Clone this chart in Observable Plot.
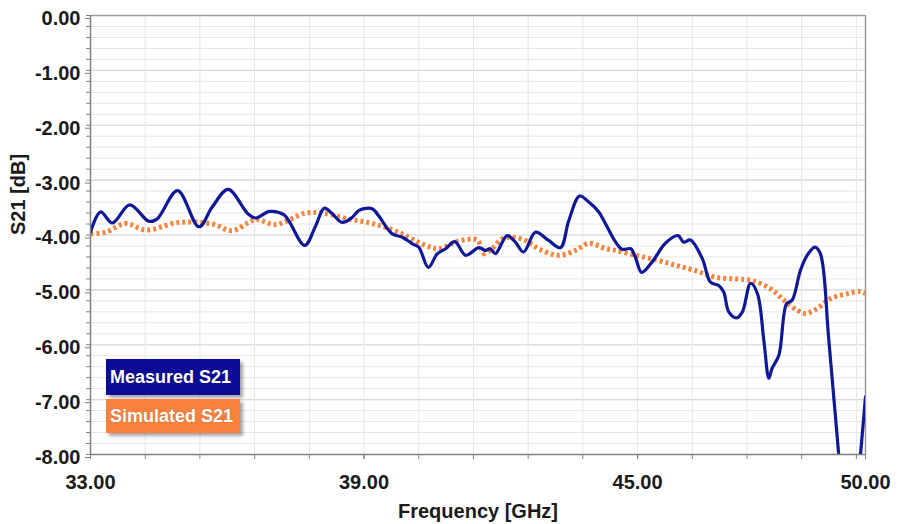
<!DOCTYPE html>
<html>
<head>
<meta charset="utf-8">
<script src="https://cdn.jsdelivr.net/npm/d3@7"></script>
<script src="https://cdn.jsdelivr.net/npm/@observablehq/plot@0.6"></script>
<style>
  html, body { margin: 0; padding: 0; background: #fff; }
  #wrap { position: relative; width: 898px; height: 524px; font-family: "Liberation Sans", Arial, sans-serif; }
  .leg { position: absolute; left: 106px; width: 134px; color: #fff; font-weight: bold; font-size: 18px;
         box-sizing: border-box; padding-left: 4px; display: flex; align-items: center;
         box-shadow: 3px 3px 3px rgba(0,0,0,0.35); text-shadow: 0 0 1px rgba(0,0,0,0.3); }
  #leg1 { top: 359px; height: 36px; background: #0b0b96; }
  #leg2 { top: 399px; height: 34px; background: #f6823e; }
</style>
</head>
<body>
<div id="wrap"></div>
<script>
// Measured S21 (GHz, dB)
const measuredFreq = [33.00,33.22,33.48,33.86,34.28,34.46,34.91,35.38,35.67,36.02,36.45,36.62,36.93,37.24,37.35,37.70,37.94,38.13,38.30,38.52,38.74,38.89,39.18,39.32,39.62,39.84,40.06,40.20,40.41,40.61,40.79,40.99,41.23,41.52,41.66,41.77,41.88,42.14,42.32,42.50,42.76,43.05,43.31,43.49,43.73,43.93,44.15,44.30,44.52,44.66,44.85,44.95,45.09,45.32,45.61,45.89,46.01,46.16,46.42,46.60,46.78,46.89,47.00,47.17,47.30,47.48,47.63,47.77,47.88,47.95,48.10,48.27,48.39,48.57,48.72,48.89,49.01,49.19,49.41,49.65,49.89,50.00];
const measuredS21 = [-3.95,-3.58,-3.78,-3.45,-3.75,-3.71,-3.19,-3.85,-3.49,-3.17,-3.61,-3.69,-3.57,-3.63,-3.74,-4.19,-3.83,-3.51,-3.61,-3.77,-3.68,-3.55,-3.52,-3.65,-3.98,-4.04,-4.16,-4.22,-4.59,-4.34,-4.25,-4.12,-4.37,-4.23,-4.28,-4.25,-4.34,-4.01,-4.13,-4.31,-3.95,-4.10,-4.23,-3.74,-3.29,-3.40,-3.58,-3.80,-4.13,-4.26,-4.25,-4.40,-4.68,-4.49,-4.15,-4.01,-4.13,-4.09,-4.43,-4.86,-4.92,-5.04,-5.40,-5.51,-5.40,-4.88,-5.07,-5.92,-6.61,-6.43,-6.19,-5.25,-5.19,-4.65,-4.37,-4.22,-4.34,-5.86,-7.98,-10.2,-8.00,-6.95];

// Simulated S21 (GHz, dB)
const simulatedFreq = [33.00,33.33,33.77,34.21,34.94,35.67,36.11,36.62,37.06,37.72,38.08,38.67,39.18,39.76,40.35,40.64,41.08,41.48,41.63,41.81,42.03,42.25,42.54,42.83,43.27,43.64,43.93,44.30,44.52,44.95,45.39,45.83,46.27,46.71,47.15,47.51,47.92,48.21,48.50,48.68,48.94,49.23,49.60,49.89,50.00];
const simulatedS21 = [-3.98,-3.95,-3.79,-3.91,-3.77,-3.80,-3.92,-3.72,-3.81,-3.60,-3.60,-3.71,-3.79,-3.95,-4.19,-4.25,-4.11,-4.09,-4.34,-4.25,-4.07,-4.04,-4.10,-4.25,-4.37,-4.28,-4.15,-4.25,-4.28,-4.37,-4.45,-4.55,-4.65,-4.77,-4.80,-4.83,-4.98,-5.19,-5.37,-5.43,-5.34,-5.16,-5.07,-5.03,-5.07];

// Axes
const xDomain = [33, 50];
const yDomain = [-8, 0];
const xTicks = [33, 34.2, 35.4, 36.6, 37.8, 39, 40.2, 41.4, 42.6, 43.8, 45, 46.2, 47.4, 48.6, 49.8, 50];
const xLabelTicks = [33, 39, 45, 50];
const yMajorTicks = [0, -1, -2, -3, -4, -5, -6, -7, -8];
const yMinorTicks = d3.ticks(-8, 0, 40);
const xTitle = "Frequency [GHz]";
const yTitle = "S21 [dB]";
const seriesNames = ["Measured S21", "Simulated S21"];

const measured = measuredFreq.map((f, i) => ({f, v: measuredS21[i]}));
const simulated = simulatedFreq.map((f, i) => ({f, v: simulatedS21[i]}));

const font = "'Liberation Sans', Arial, sans-serif";
const chart = Plot.plot({
  width: 898,
  height: 524,
  marginLeft: 90,
  marginRight: 33,
  marginTop: 15,
  marginBottom: 70,
  style: {fontFamily: font, background: "#fff", overflow: "visible"},
  x: {domain: xDomain},
  y: {domain: yDomain},
  marks: [
    Plot.gridY(yMinorTicks, {stroke: "#e6e6e6", strokeOpacity: 1, strokeWidth: 1}),
    Plot.gridY(yMajorTicks, {stroke: "#d9d9d9", strokeOpacity: 1, strokeWidth: 1.2}),
    Plot.gridX(xTicks, {stroke: "#e6e6e6", strokeOpacity: 1, strokeWidth: 1}),
    Plot.ruleY([yDomain[1]], {stroke: "#9a9a9a", strokeWidth: 1.5}),
    Plot.ruleX([xDomain[1]], {stroke: "#9a9a9a", strokeWidth: 1.5}),
    Plot.line(simulated, {x: "f", y: "v", stroke: "#f5853f", strokeWidth: 5, strokeDasharray: "3,3", strokeLinecap: "butt", strokeLinejoin: "miter", clip: true, curve: "catmull-rom"}),
    Plot.line(measured, {x: "f", y: "v", stroke: "#0e1899", strokeWidth: 3.2, clip: true, curve: "catmull-rom"}),
    Plot.ruleX([xDomain[0]], {stroke: "#808080", strokeWidth: 1.5}),
    Plot.ruleY([yDomain[0]], {stroke: "#808080", strokeWidth: 1.5}),
    Plot.axisY(yMinorTicks, {tickSize: 4, tickFormat: () => "", stroke: "#808080", label: null}),
    Plot.axisY(yMajorTicks, {tickSize: 5, tickPadding: 5, tickFormat: d => d.toFixed(2), fontSize: 20, fontWeight: "bold", fill: "#1a1a1a", stroke: "#808080", dy: 3, label: null}),
    Plot.axisX(xTicks, {tickSize: 5, tickFormat: () => "", stroke: "#808080", label: null}),
    Plot.axisX(xLabelTicks, {tickSize: 5, tickPadding: 15, tickFormat: d => d.toFixed(2), fontSize: 20, fontWeight: "bold", fill: "#1a1a1a", stroke: "#808080", label: null}),
    Plot.text([xTitle], {frameAnchor: "bottom", dy: 63, fontSize: 20, fontWeight: "bold", fill: "#1a1a1a"}),
    Plot.text([yTitle], {frameAnchor: "left", dx: -72, rotate: -90, fontSize: 20, fontWeight: "bold", fill: "#1a1a1a"})
  ]
});
const wrap = document.getElementById("wrap");
wrap.appendChild(chart);
seriesNames.forEach((name, i) => {
  const d = document.createElement("div");
  d.className = "leg";
  d.id = "leg" + (i + 1);
  d.textContent = name;
  wrap.appendChild(d);
});
</script>
</body>
</html>
